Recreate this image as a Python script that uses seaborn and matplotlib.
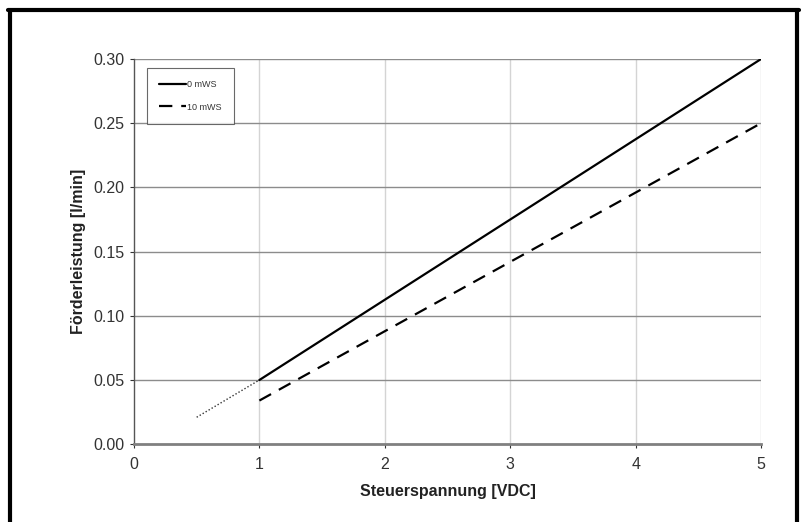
import numpy as np
import pandas as pd
import matplotlib
matplotlib.use("Agg")
import matplotlib.pyplot as plt
import seaborn as sns
from matplotlib.lines import Line2D

# Kennlinien
spannung = [1, 5]
foerder_0mws = [0.05, 0.30]
foerder_10mws = [0.034, 0.25]
spannung_extra = [0.5, 1]
foerder_extra = [0.021, 0.05]

x_ticks = [0, 1, 2, 3, 4, 5]
y_ticks = [0.00, 0.05, 0.10, 0.15, 0.20, 0.25, 0.30]

df = pd.concat([
    pd.DataFrame({"U": spannung, "Q": foerder_0mws, "Serie": "0 mWS"}),
    pd.DataFrame({"U": spannung, "Q": foerder_10mws, "Serie": "10 mWS"}),
])

sns.set_theme(style="white")
plt.rcParams["font.family"] = ["Liberation Sans", "DejaVu Sans"]

fig = plt.figure(figsize=(8.02, 5.22), dpi=100)
ax = fig.add_axes([0.167, 0.149, 0.782, 0.738])

# Gitter
for xv in x_ticks[1:]:
    ax.axvline(xv, color="#d4d4d4", lw=1.0, zorder=0)
for yv in y_ticks[1:]:
    ax.axhline(yv, color="#8c8c8c", lw=1.0, zorder=0)

sns.lineplot(data=df, x="U", y="Q", hue="Serie", style="Serie",
             palette=["black", "black"], dashes=[(None, None), (6, 4)],
             lw=1.6, legend=False, ax=ax)
sns.lineplot(x=spannung_extra, y=foerder_extra, color="#333333",
             lw=1.0, linestyle=(0, (1, 1.5)), ax=ax)

ax.set_xlim(0, 5)
ax.set_ylim(0, 0.30)
ax.set_xticks(x_ticks)
ax.set_yticks(y_ticks)
ax.set_yticklabels([f"{v:.2f}" for v in y_ticks])
ax.tick_params(axis="both", labelsize=11.5, colors="#333333", length=3,
               width=0.8, direction="out", bottom=True, left=True, pad=4)
ax.tick_params(axis="x", pad=6)

for s in ["top", "right"]:
    ax.spines[s].set_visible(False)
ax.spines["left"].set_color("#555555")
ax.spines["left"].set_linewidth(1.0)
ax.spines["bottom"].set_color("#808080")
ax.spines["bottom"].set_linewidth(2.0)

ax.set_xlabel("Steuerspannung [VDC]", fontsize=11.5, fontweight="bold",
              color="#222222", labelpad=9)
ax.set_ylabel("Förderleistung [l/min]", fontsize=11.5, fontweight="bold",
              color="#222222", labelpad=5)

handles = [Line2D([], [], color="black", lw=1.6),
           Line2D([], [], color="black", lw=1.6, dashes=(6, 4))]
leg = ax.legend(handles, ["0 mWS", "10 mWS"], loc="upper left",
                bbox_to_anchor=(0.021, 0.977), fontsize=6.5, frameon=True,
                fancybox=False, edgecolor="#444444", handlelength=3.0,
                handletextpad=0.1, borderpad=1.35, labelspacing=1.5,
                borderaxespad=0)
leg.get_frame().set_linewidth(0.8)
for t in leg.get_texts():
    t.set_color("#333333")

# schwarzer Rahmen
fig.add_artist(Line2D([0.012, 0.012], [0, 0.98], color="black", lw=3,
                      transform=fig.transFigure))
fig.add_artist(Line2D([0.01, 0.996], [0.98, 0.98], color="black", lw=3,
                      transform=fig.transFigure))
fig.add_artist(Line2D([0.994, 0.994], [0, 0.98], color="black", lw=3,
                      transform=fig.transFigure))

fig.savefig("out.png", dpi=100)
